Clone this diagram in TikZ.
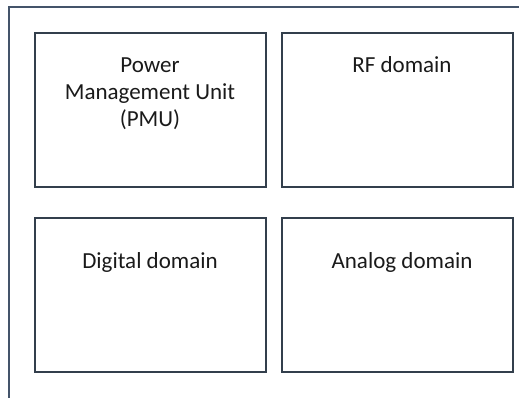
\documentclass[tikz,border=0pt]{standalone}
\usepackage{fontspec}
\setmainfont{Carlito}
\definecolor{framec}{HTML}{44546A}
\definecolor{boxc}{HTML}{333F4C}
\definecolor{txtc}{HTML}{1A1A1A}
\begin{document}
\begin{tikzpicture}[x=1pt,y=-1pt,
  blockbox/.style={draw=boxc,line width=1.8pt,fill=white},
  lbl/.style={text=txtc,inner sep=0pt,anchor=base,align=center,font=\fontsize{23}{27}\selectfont}]
\useasboundingbox (0,0) rectangle (519,397);
% outer frame (continues beyond right and bottom)
\draw[framec,line width=1.6pt] (9,402) -- (9,7) -- (525,7);
% blocks
\node[blockbox,minimum width=231pt,minimum height=154pt,anchor=north west,inner sep=0pt] (pmu) at (34,32) {};
\node[blockbox,minimum width=231pt,minimum height=154pt,anchor=north west,inner sep=0pt] (rf) at (281,32) {};
\node[blockbox,minimum width=231pt,minimum height=154pt,anchor=north west,inner sep=0pt] (dig) at (34,217) {};
\node[blockbox,minimum width=231pt,minimum height=154pt,anchor=north west,inner sep=0pt] (ana) at (281,217) {};
% labels
\node[lbl] (pmut) at (150,126) {Power\\Management Unit\\(PMU)};
\node[lbl] (rft) at (402,72) {RF domain};
\node[lbl] (digt) at (150,268) {Digital domain};
\node[lbl] (anat) at (402,268) {Analog domain};
\end{tikzpicture}
\end{document}
